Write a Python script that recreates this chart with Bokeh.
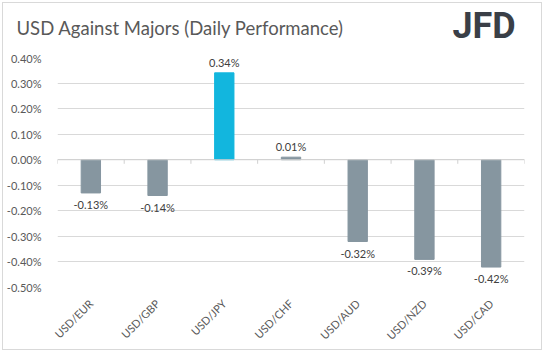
from bokeh.plotting import figure
from bokeh.layouts import column
from bokeh.models import (ColumnDataSource, FactorRange, Range1d, FixedTicker,
                          PrintfTickFormatter, Span, Label)
from bokeh.core.properties import value
from bokeh.embed import file_html
from bokeh.resources import INLINE
import math

pairs = ["USD/EUR", "USD/GBP", "USD/JPY", "USD/CHF", "USD/AUD", "USD/NZD", "USD/CAD"]
changes = [-0.13, -0.14, 0.34, 0.01, -0.32, -0.39, -0.42]
y_ticks = [-0.5, -0.4, -0.3, -0.2, -0.1, 0.0, 0.1, 0.2, 0.3, 0.4]
title_text = "USD Against Majors (Daily Performance)"
logo_text = "JFD"

FONT = "Lato"
GREY = "#8696a0"
CYAN = "#12b6de"
INSET = 3          # border inset of the whole chart
W = 544 - 2 * INSET
HEADER_H = 48

colors = [CYAN if v > 0.2 else GREY for v in changes]
labels = [f"{v:.2f}%" for v in changes]

src = ColumnDataSource(dict(x=pairs, top=changes, color=colors, label=labels))
pos = ColumnDataSource(dict(x=[p for p, v in zip(pairs, changes) if v >= 0],
                            y=[v for v in changes if v >= 0],
                            label=[l for l, v in zip(labels, changes) if v >= 0]))
neg = ColumnDataSource(dict(x=[p for p, v in zip(pairs, changes) if v < 0],
                            y=[v for v in changes if v < 0],
                            label=[l for l, v in zip(labels, changes) if v < 0]))

# header strip: title and logo
h = figure(width=W, height=HEADER_H, output_backend="svg", toolbar_location=None,
           x_range=Range1d(0, W), y_range=Range1d(0, HEADER_H),
           min_border=0, x_axis_type=None, y_axis_type=None)
h.frame_align = False
h.outline_line_color = None
h.grid.grid_line_color = None
h.add_layout(Label(x=13, y=HEADER_H - 24, x_units="screen", y_units="screen",
                   text=title_text, text_font=FONT, text_font_size="18.5px",
                   text_baseline="alphabetic", text_color="#595959"))
h.add_layout(Label(x=449, y=HEADER_H - 22, x_units="screen", y_units="screen",
                   text=logo_text, text_font="Roboto", text_font_style="bold",
                   text_font_size="36px", text_baseline="alphabetic",
                   text_color="#3a3f47"))

p = figure(width=W, height=352 - 2 * INSET - HEADER_H, output_backend="svg",
           toolbar_location=None,
           x_range=FactorRange(*pairs, range_padding=0),
           y_range=Range1d(-0.5, 0.4),
           min_border_left=52, min_border_right=17, min_border_top=57 - HEADER_H - INSET,
           min_border_bottom=60)
p.frame_align = False
p.outline_line_color = None
p.background_fill_color = "white"
p.border_fill_color = "white"

p.vbar(x="x", top="top", bottom=0, width=0.29, color="color", source=src)

p.text(x="x", y="y", text="label", source=pos, text_align="center",
       text_baseline="bottom", y_offset=-4, text_font=value(FONT),
       text_font_size="11px", text_color="#404040")
p.text(x="x", y="y", text="label", source=neg, text_align="center",
       text_baseline="top", y_offset=5, text_font=value(FONT),
       text_font_size="11px", text_color="#404040")

p.add_layout(Span(location=0, dimension="width", line_color="#d0d0d0", line_width=1))
p.segment(x0=list(range(len(pairs) + 1)), x1=list(range(len(pairs) + 1)),
          y0=0, y1=-0.016, line_color="#d0d0d0", line_width=1)

p.yaxis.ticker = FixedTicker(ticks=y_ticks)
p.yaxis.formatter = PrintfTickFormatter(format="%.2f%%")
p.yaxis.axis_line_color = None
p.yaxis.major_tick_line_color = None
p.yaxis.minor_tick_line_color = None
p.yaxis.major_label_text_font = FONT
p.yaxis.major_label_text_font_size = "11px"
p.yaxis.major_label_text_color = "#595959"
p.yaxis.major_label_standoff = 10

p.xaxis.axis_line_color = None
p.xaxis.major_tick_line_color = None
p.xaxis.minor_tick_line_color = None
p.xaxis.major_label_orientation = math.pi / 4
p.xaxis.major_label_text_font = FONT
p.xaxis.major_label_text_font_size = "11px"
p.xaxis.major_label_text_color = "#595959"
p.xaxis.major_label_standoff = 8

p.xgrid.grid_line_color = None
p.ygrid.grid_line_color = "#d9d9d9"
p.ygrid.ticker = FixedTicker(ticks=y_ticks)

layout = column(h, p, spacing=0)
layout.margin = (INSET - 1, INSET - 1, INSET - 1, INSET - 1)
layout.styles = {"border": "1px solid #d9d9d9", "background": "white"}

open("out.html", "w").write(file_html(layout, INLINE))
